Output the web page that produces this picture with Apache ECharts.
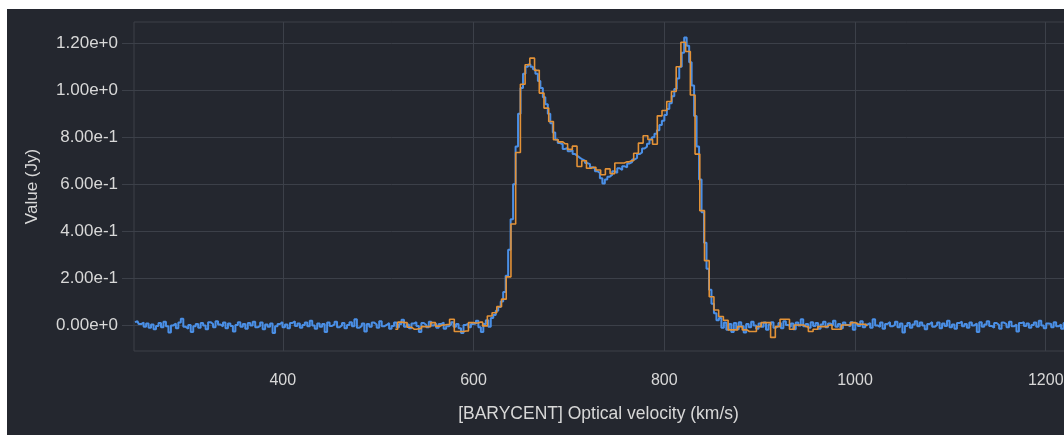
<!DOCTYPE html>
<html>
<head>
<meta charset="utf-8">
<script src="https://cdn.jsdelivr.net/npm/echarts@6/dist/echarts.min.js"></script>
<style>
  html, body { margin: 0; padding: 0; background: #ffffff; width: 1064px; height: 435px; overflow: hidden; position: relative; }
  #c { position: absolute; left: 7px; top: 9px; width: 1157px; height: 426px; background: #24272f; }
</style>
</head>
<body>
<div id="c"></div>
<script>
// Blue spectrum: channel grid (km/s) and flux values (Jy)
const blueStart = 245.0;
const blueWidth = 2.6;
const blueValues = [
  // baseline 245 - 599 km/s
  0.012, 0.016, 0.004, 0.010, -0.008, 0.006, -0.012, 0.002, -0.018, -0.004,
  0.008, -0.010, 0.014, -0.006, -0.032, -0.002, 0.006, -0.014, 0.010, 0.026,
  -0.008, -0.016, 0.000, -0.030, -0.006, 0.004, -0.012, 0.008, -0.002, -0.018,
  0.012, 0.004, -0.010, 0.016, 0.002, -0.006, 0.010, -0.014, 0.006, -0.004,
  -0.028, 0.000, 0.012, -0.008, 0.004, -0.016, 0.008, -0.002, 0.014, -0.010,
  -0.004, 0.010, -0.018, 0.002, -0.008, 0.006, -0.034, -0.006, 0.004, 0.012,
  -0.010, 0.002, -0.014, 0.008, 0.016, -0.004, 0.006, -0.012, 0.000, 0.010,
  -0.006, 0.018, -0.002, -0.016, 0.006, -0.008, 0.004, -0.030, 0.010, -0.004,
  0.002, 0.014, -0.010, -0.002, 0.008, -0.014, 0.000, 0.012, -0.006, 0.024,
  -0.012, -0.004, 0.006, -0.028, 0.004, -0.008, 0.010, 0.002, -0.012, 0.016,
  -0.006, 0.000, 0.008, -0.016, -0.004, 0.010, -0.010, 0.004, 0.022, -0.008,
  0.002, -0.014, 0.006, 0.012, -0.004, -0.030, 0.008, 0.000, -0.010, 0.014,
  -0.002, 0.006, -0.012, 0.004, 0.010, -0.016, -0.006, 0.002, 0.012, -0.008,
  0.004, -0.014, -0.034, 0.000, 0.006, -0.010, 0.004,
  // line profile 601 - 869 km/s
  0.006, 0.018, -0.010, -0.030, 0.004, 0.020, -0.008, 0.030, 0.042, 0.060,
  0.076, 0.100, 0.140, 0.210, 0.320, 0.450, 0.600, 0.760, 0.900, 1.010,
  1.070, 1.100, 1.110, 1.100, 1.090, 1.070, 1.040, 1.010, 0.970, 0.940,
  0.900, 0.860, 0.820, 0.790, 0.775, 0.770, 0.750, 0.755, 0.740, 0.745,
  0.728, 0.720, 0.712, 0.705, 0.700, 0.690, 0.685, 0.672, 0.668, 0.655,
  0.648, 0.625, 0.603, 0.620, 0.632, 0.640, 0.655, 0.648, 0.668, 0.660,
  0.676, 0.672, 0.688, 0.694, 0.705, 0.712, 0.728, 0.735, 0.752, 0.760,
  0.772, 0.790, 0.800, 0.815, 0.830, 0.852, 0.870, 0.895, 0.920, 0.945,
  0.975, 1.005, 1.050, 1.100, 1.160, 1.225, 1.190, 1.120, 1.020, 0.890,
  0.760, 0.620, 0.480, 0.350, 0.240, 0.150, 0.090, 0.050, 0.020, 0.030,
  -0.012, 0.010, -0.020, 0.004,
  // baseline 872 - 1223 km/s
  -0.030, 0.008, -0.018, 0.012, -0.006, -0.032, 0.004, -0.010, 0.014, -0.002,
  -0.016, 0.006, -0.008, 0.010, -0.020, 0.002, 0.012, -0.012, -0.004, 0.008,
  -0.014, 0.016, 0.000, -0.008, 0.006, -0.018, 0.010, -0.002, 0.024, -0.006,
  0.004, -0.012, 0.012, -0.004, 0.008, -0.016, 0.002, 0.014, -0.010, 0.006,
  -0.002, 0.018, -0.008, 0.004, -0.014, 0.010, 0.000, -0.006, 0.012, -0.020,
  0.006, -0.004, 0.016, -0.010, 0.002, 0.008, -0.012, 0.024, -0.002, -0.008,
  0.010, -0.016, 0.004, 0.012, -0.006, 0.000, 0.014, -0.010, 0.006, -0.032,
  -0.004, 0.008, -0.012, 0.002, 0.016, -0.006, 0.010, -0.002, -0.018, 0.004,
  0.012, -0.008, 0.000, 0.010, -0.014, 0.006, -0.004, 0.018, -0.010, 0.002,
  -0.016, 0.008, 0.014, -0.006, 0.004, -0.012, 0.010, -0.002, 0.006, -0.030,
  0.012, -0.008, 0.002, 0.016, -0.004, -0.012, 0.008, 0.000, -0.016, 0.010,
  0.004, -0.010, 0.014, -0.006, 0.002, -0.028, 0.008, 0.012, -0.004, 0.006,
  -0.012, 0.000, 0.010, -0.008, 0.018, -0.002, -0.014, 0.006, 0.004, -0.010,
  0.012, -0.006, 0.002, -0.016, 0.008, 0.004
];

// Orange spectrum: coarser channels (km/s) and flux values (Jy)
const orangeStart = 515.5;
const orangeWidth = 4.95;
const orangeValues = [
  -0.018, 0.012, 0.010, -0.010, -0.018, -0.016, -0.007, -0.007, 0.010, -0.005,
  0.000, 0.002, 0.024, -0.028, -0.028, -0.026, 0.010, 0.008, 0.012, -0.004,
  0.038, 0.052, 0.078, 0.110, 0.205, 0.430, 0.735, 1.026, 1.109, 1.137,
  1.085, 0.988, 0.924, 0.867, 0.789, 0.780, 0.772, 0.748, 0.762, 0.675,
  0.700, 0.668, 0.672, 0.660, 0.640, 0.665, 0.645, 0.690, 0.690, 0.695,
  0.700, 0.732, 0.775, 0.806, 0.790, 0.770, 0.891, 0.914, 0.952, 0.995,
  1.100, 1.205, 1.165, 0.980, 0.728, 0.487, 0.274, 0.120, 0.064, 0.036,
  0.020, -0.021, -0.021, -0.007, -0.021, -0.028, -0.028, -0.007, 0.010, 0.010,
  -0.053, -0.007, 0.024, 0.024, -0.018, 0.000, 0.000, -0.007, -0.028, -0.018,
  -0.007, -0.007, 0.000, -0.018, -0.018, 0.000, 0.000, 0.010, 0.003, 0.003,
  -0.004
];

// Axis tick labels
const xTicks = [400, 600, 800, 1000, 1200];
const yTicks = [0, 0.2, 0.4, 0.6, 0.8, 1.0, 1.2];

const xName = '[BARYCENT] Optical velocity (km/s)';
const yName = 'Value (Jy)';

// Build [velocity, value] pairs at channel centres
const blueData = blueValues.map((v, i) => [blueStart + blueWidth * i, v]);
const orangeData = orangeValues.map((v, i) => [orangeStart + orangeWidth * (i + 0.5), v]);

const gridColor = '#3c4049';
const textColor = '#d8d8d8';
const font = 'Liberation Sans, Arial, Helvetica, sans-serif';

const chart = echarts.init(document.getElementById('c'), null, { renderer: 'canvas' });
chart.setOption({
  backgroundColor: '#24272f',
  animation: false,
  grid: {
    left: 127, top: 13, right: 0, bottom: 84,
    show: true, borderColor: gridColor, borderWidth: 1, backgroundColor: 'transparent'
  },
  xAxis: {
    type: 'value',
    min: 244, max: 1324,
    minInterval: 200, maxInterval: 200,
    name: xName, nameLocation: 'middle', nameGap: 54,
    nameTextStyle: { color: textColor, fontSize: 17.5, fontFamily: font, padding: [0, 101, 0, 0] },
    axisLine: { show: false },
    axisTick: { show: true, length: 15, customValues: xTicks, lineStyle: { color: gridColor } },
    axisLabel: {
      color: textColor, fontSize: 16, fontFamily: font, margin: 22,
      customValues: xTicks,
      formatter: (v) => String(v)
    },
    splitLine: { show: true, lineStyle: { color: gridColor, width: 1 } }
  },
  yAxis: {
    type: 'value',
    min: -0.111, max: 1.291,
    minInterval: 0.2, maxInterval: 0.2,
    name: yName, nameLocation: 'middle', nameGap: 93,
    nameTextStyle: { color: textColor, fontSize: 17, fontFamily: font },
    axisLine: { show: false },
    axisTick: { show: true, length: 12, customValues: yTicks, lineStyle: { color: gridColor } },
    axisLabel: {
      color: textColor, fontSize: 17, fontFamily: font, margin: 16,
      customValues: yTicks,
      formatter: (v) => Number(v).toExponential(2)
    },
    splitLine: { show: true, lineStyle: { color: gridColor, width: 1 } }
  },
  series: [
    {
      name: 'blue', type: 'line', step: 'middle', data: blueData,
      showSymbol: false, symbol: 'none', clip: true,
      lineStyle: { color: '#4a8fe6', width: 2 }
    },
    {
      name: 'orange', type: 'line', step: 'middle', data: orangeData,
      showSymbol: false, symbol: 'none', clip: true,
      lineStyle: { color: '#e39237', width: 1.6 }
    }
  ]
});
</script>
</body>
</html>
